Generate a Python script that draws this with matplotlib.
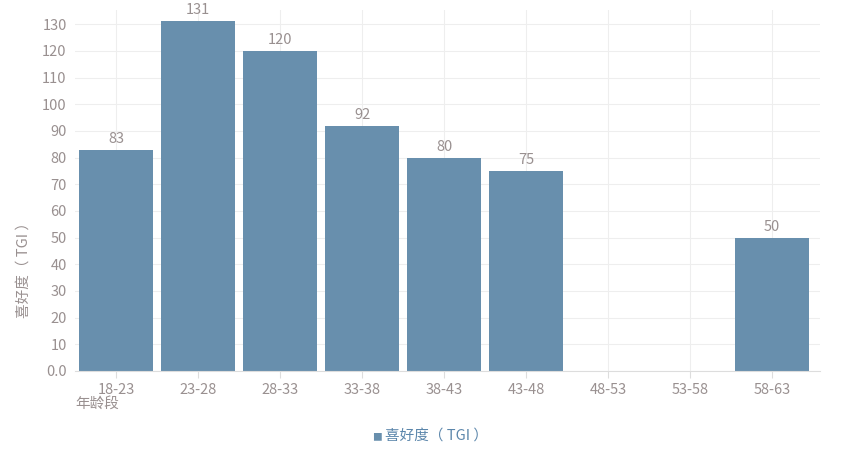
import matplotlib
matplotlib.use("Agg")
import matplotlib.pyplot as plt
import numpy as np

plt.rcParams['font.family'] = ['Noto Sans CJK SC', 'DejaVu Sans']

# data
ages = ["18-23", "23-28", "28-33", "33-38", "38-43", "43-48", "48-53", "53-58", "58-63"]
tgi = [83, 131, 120, 92, 80, 75, None, None, 50]

bar_color = "#688fad"
text_color = "#999090"

fig = plt.figure(figsize=(8.44, 4.58), dpi=100)
ax = fig.add_axes([75 / 844, 87 / 458, 745 / 844, 361 / 458])

x = np.arange(len(ages))
for i, v in enumerate(tgi):
    if v is None:
        continue
    ax.bar(x[i], v, width=0.9, color=bar_color, zorder=2)
    ax.text(x[i], v + 1.5, str(v), ha="center", va="bottom", fontsize=10.5, color=text_color)

ax.set_xlim(-0.5, 8.585)
ax.set_ylim(0, 135.3)
ax.set_yticks(np.arange(0, 131, 10))
ax.set_yticklabels(["0.0"] + [str(t) for t in range(10, 131, 10)])
ax.set_xticks(x)
ax.set_xticklabels(ages)

ax.grid(True, color="#eeeeee", linewidth=0.8, zorder=0)
ax.set_axisbelow(True)
for s in ["top", "right", "left"]:
    ax.spines[s].set_visible(False)
ax.spines["bottom"].set_color("#dddddd")
ax.tick_params(axis="y", length=0, labelsize=10.5, colors=text_color, pad=6)
ax.tick_params(axis="x", length=5, color="#dddddd", labelsize=10.5, colors=text_color, pad=4)

ax.set_ylabel("喜好度（ TGI ）", fontsize=10.5, color=text_color)
ax.yaxis.set_label_coords(-0.06, 0.29)
fig.text(75 / 844, 1 - 404 / 458, "年龄段", fontsize=10.5, color=text_color, ha="left", va="center")

# legend
fig.text(377 / 844, 1 - 437 / 458, "■", fontsize=7, color=bar_color, ha="center", va="center")
fig.text(385 / 844, 1 - 436 / 458, "喜好度（ TGI ）", fontsize=10.5, color="#5b86ab", ha="left", va="center")

fig.savefig("out.png", dpi=100)
